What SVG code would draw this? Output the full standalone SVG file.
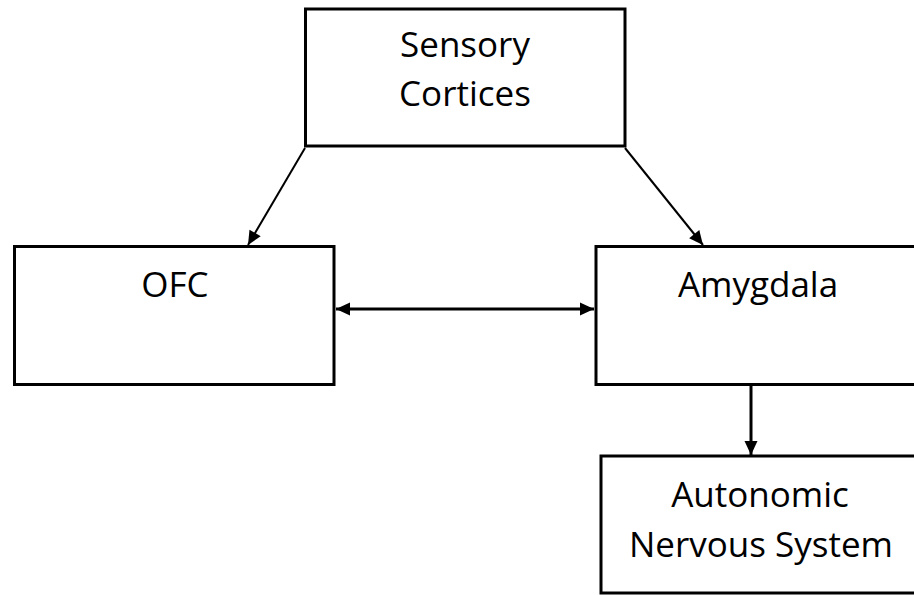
<svg xmlns="http://www.w3.org/2000/svg" width="914" height="595" viewBox="0 0 914 595">
<style>
.box{fill:#fff;stroke:#000;stroke-width:3}
.lbl{font-family:"Open Sans","Liberation Sans",sans-serif;font-size:35px;fill:#000;text-anchor:middle}
.con{fill:none;stroke:#000}
</style>
<defs>
<marker id="ah" markerUnits="userSpaceOnUse" markerWidth="18" markerHeight="18" viewBox="0 0 18 18" refX="16" refY="9" orient="auto-start-reverse">
<path d="M2,2.5 L16,9 L2,15.5 Z" fill="#000"/>
</marker>
</defs>
<rect width="914" height="595" fill="#fff"/>
<g id="sensory">
<rect class="box" x="305.5" y="9" width="319.5" height="137"/>
<text class="lbl" x="465" y="57">Sensory</text>
<text class="lbl" x="465" y="106">Cortices</text>
</g>
<g id="ofc">
<rect class="box" x="14.5" y="246.5" width="319.5" height="138"/>
<text class="lbl" x="175" y="297">OFC</text>
</g>
<g id="amygdala">
<rect class="box" x="596" y="246.5" width="330" height="138"/>
<text class="lbl" x="758" y="297">Amygdala</text>
</g>
<g id="ans">
<rect class="box" x="601" y="456" width="330" height="137"/>
<text class="lbl" x="760" y="507">Autonomic</text>
<text class="lbl" x="761" y="557">Nervous System</text>
</g>
<g id="connectors">
<line class="con" stroke-width="2" x1="305" y1="148" x2="248" y2="245" marker-end="url(#ah)"/>
<line class="con" stroke-width="2" x1="625" y1="148" x2="703" y2="245" marker-end="url(#ah)"/>
<line class="con" stroke-width="3" x1="336" y1="309" x2="594" y2="309" marker-start="url(#ah)" marker-end="url(#ah)"/>
<line class="con" stroke-width="3" x1="751" y1="386" x2="751" y2="455" marker-end="url(#ah)"/>
</g>
</svg>
